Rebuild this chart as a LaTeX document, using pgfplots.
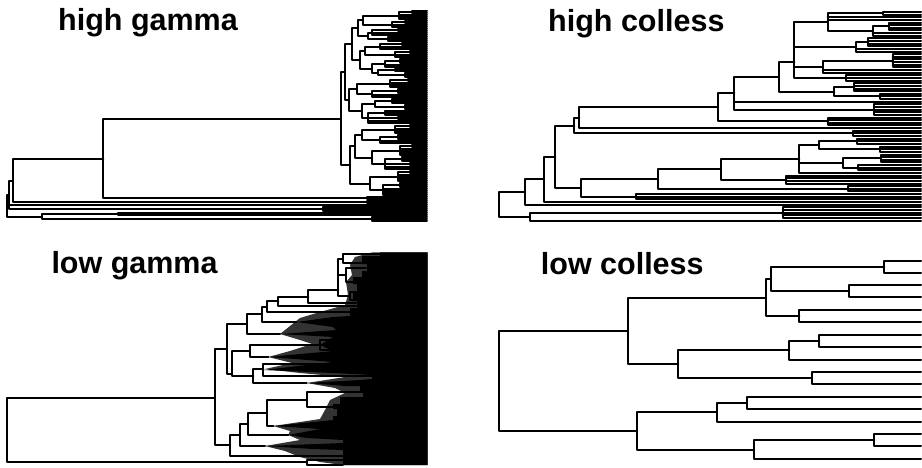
\documentclass[border=0pt]{standalone}
\usepackage{fontspec}
\setmainfont{Liberation Sans}
\usepackage{pgfplots}
\pgfplotsset{compat=1.18}
\pgfplotsset{phylo/.style={black, line width=2.0pt, line cap=round, line join=round, mark=none, forget plot}}
\tikzset{ttl/.style={anchor=base west, inner sep=0pt, font=\fontsize{30.5}{36}\selectfont\bfseries}}
\begin{document}
\begin{tikzpicture}
\begin{axis}[x=1pt, y=1pt, y dir=reverse, xmin=0, xmax=922, ymin=0, ymax=468, hide axis, clip=false, scale only axis, unbounded coords=jump]
\addplot[draw=none, forget plot] coordinates {(0,0) (922,468)};
% ---------------- high gamma ----------------
\addplot[phylo] coordinates {
(427,11.5)(412,11.5)(412,13.5)(427,13.5) (nan,nan)
(412,12.5)(399,12.5)(399,19.5)(427,19.5) (nan,nan)
(399,15.5)(427,15.5) (nan,nan)
(399,17.5)(427,17.5) (nan,nan)
(427,21.5)(405,21.5)(405,23.5)(427,23.5) (nan,nan)
(405,22.5)(392,22.5)(392,27.5)(427,27.5) (nan,nan)
(392,25.5)(427,25.5) (nan,nan)
(399,16)(363,16)(363,25)(392,25) (nan,nan)
(427,29.5)(398,29.5)(398,31.5)(427,31.5) (nan,nan)
(398,30.5)(372,30.5)(372,35.5)(427,35.5) (nan,nan)
(372,33.5)(427,33.5) (nan,nan)
(427,37.5)(388,37.5)(388,41.5)(427,41.5) (nan,nan)
(388,39.5)(427,39.5) (nan,nan)
(372,33)(368,33)(368,39.5)(388,39.5) (nan,nan)
(363,20.5)(358,20.5)(358,36.3)(368,36.3) (nan,nan)
(427,43.5)(402,43.5)(402,45.5)(427,45.5) (nan,nan)
(402,44.5)(380,44.5)(380,49.5)(427,49.5) (nan,nan)
(380,47.5)(427,47.5) (nan,nan)
(427,51.5)(410,51.5)(410,53.5)(427,53.5) (nan,nan)
(410,52.5)(395,52.5)(395,57.5)(427,57.5) (nan,nan)
(395,55.5)(427,55.5) (nan,nan)
(380,47)(365,47)(365,55)(395,55) (nan,nan)
(427,59.5)(400,59.5)(400,63.5)(427,63.5) (nan,nan)
(400,61.5)(427,61.5) (nan,nan)
(400,61.5)(385,61.5)(385,67.5)(427,67.5) (nan,nan)
(385,65.5)(427,65.5) (nan,nan)
(427,69.5)(395,69.5)(395,71.5)(427,71.5) (nan,nan)
(427,73.5)(405,73.5)(405,77.5)(427,77.5) (nan,nan)
(405,75.5)(427,75.5) (nan,nan)
(395,70.5)(378,70.5)(378,75.5)(405,75.5) (nan,nan)
(385,64.5)(372,64.5)(372,73)(378,73) (nan,nan)
(365,51)(360,51)(360,68.8)(372,68.8) (nan,nan)
(358,28.4)(352,28.4)(352,59.9)(360,59.9) (nan,nan)
(427,79.5)(408,79.5)(408,81.5)(427,81.5) (nan,nan)
(408,80.5)(390,80.5)(390,87.5)(427,87.5) (nan,nan)
(390,83.5)(427,83.5) (nan,nan)
(390,85.5)(427,85.5) (nan,nan)
(427,89.5)(398,89.5)(398,93.5)(427,93.5) (nan,nan)
(398,91.5)(427,91.5) (nan,nan)
(398,91.5)(372,91.5)(372,97.5)(427,97.5) (nan,nan)
(372,95.5)(427,95.5) (nan,nan)
(390,84)(357,84)(357,94.5)(372,94.5) (nan,nan)
(427,99.5)(392,99.5)(392,103.5)(427,103.5) (nan,nan)
(392,101.5)(427,101.5) (nan,nan)
(427,105.5)(405,105.5)(405,109.5)(427,109.5) (nan,nan)
(405,107.5)(427,107.5) (nan,nan)
(392,101.5)(375,101.5)(375,107.5)(405,107.5) (nan,nan)
(427,111.5)(385,111.5)(385,115.5)(427,115.5) (nan,nan)
(385,113.5)(427,113.5) (nan,nan)
(427,117.5)(398,117.5)(398,119.5)(427,119.5) (nan,nan)
(385,113.5)(368,113.5)(368,123.5)(427,123.5) (nan,nan)
(368,118.5)(398,118.5) (nan,nan)
(368,121.5)(427,121.5) (nan,nan)
(375,104.5)(362,104.5)(362,118.5)(368,118.5) (nan,nan)
(357,89.3)(349,89.3)(349,111.5)(362,111.5) (nan,nan)
(352,44.2)(345,44.2)(345,100.4)(349,100.4) (nan,nan)
(427,125.5)(410,125.5)(410,127.5)(427,127.5) (nan,nan)
(410,126.5)(395,126.5)(395,133.5)(427,133.5) (nan,nan)
(395,129.5)(427,129.5) (nan,nan)
(395,131.5)(427,131.5) (nan,nan)
(427,135.5)(398,135.5)(398,139.5)(427,139.5) (nan,nan)
(398,137.5)(427,137.5) (nan,nan)
(398,137.5)(380,137.5)(380,143.5)(427,143.5) (nan,nan)
(380,141.5)(427,141.5) (nan,nan)
(395,130)(362,130)(362,140.5)(380,140.5) (nan,nan)
(427,145.5)(412,145.5)(412,147.5)(427,147.5) (nan,nan)
(412,146.5)(400,146.5)(400,155.5)(427,155.5) (nan,nan)
(400,149.5)(427,149.5) (nan,nan)
(400,151.5)(427,151.5) (nan,nan)
(400,153.5)(427,153.5) (nan,nan)
(427,157.5)(402,157.5)(402,161.5)(427,161.5) (nan,nan)
(402,159.5)(427,159.5) (nan,nan)
(427,163.5)(410,163.5)(410,165.5)(427,165.5) (nan,nan)
(402,159.5)(385,159.5)(385,169.5)(427,169.5) (nan,nan)
(385,164.5)(410,164.5) (nan,nan)
(385,167.5)(427,167.5) (nan,nan)
(400,151)(372,151)(372,164.5)(385,164.5) (nan,nan)
(362,135.3)(355,135.3)(355,157.8)(372,157.8) (nan,nan)
(427,171.5)(410,171.5)(410,173.5)(427,173.5) (nan,nan)
(410,172.5)(398,172.5)(398,181.5)(427,181.5) (nan,nan)
(398,175.5)(427,175.5) (nan,nan)
(398,177.5)(427,177.5) (nan,nan)
(398,179.5)(427,179.5) (nan,nan)
(427,183.5)(400,183.5)(400,187.5)(427,187.5) (nan,nan)
(400,185.5)(427,185.5) (nan,nan)
(400,185.5)(383,185.5)(383,195.5)(427,195.5) (nan,nan)
(383,189.5)(427,189.5) (nan,nan)
(383,191.5)(427,191.5) (nan,nan)
(383,193.5)(427,193.5) (nan,nan)
(398,177)(370,177)(370,190.5)(383,190.5) (nan,nan)
(355,146.5)(350,146.5)(350,183.8)(370,183.8) (nan,nan)
(345,72.3)(340.7,72.3)(340.7,165.2)(350,165.2) (nan,nan)
(427,197.5)(367,197.5)(367,199.5)(427,199.5) (nan,nan)
(340.7,118.8)(103.3,118.8)(103.3,198.5)(367,198.5) (nan,nan)
(427,201.5)(367,201.5)(367,203.5)(427,203.5) (nan,nan)
(103.3,158.7)(12.7,158.7)(12.7,202.5)(367,202.5) (nan,nan)
(427,207.5)(323,207.5)(323,211.5)(427,211.5) (nan,nan)
(323,209.5)(427,209.5) (nan,nan)
(12.7,180.6)(9,180.6)(9,209.5)(323,209.5) (nan,nan)
(9,205.5)(427,205.5) (nan,nan)
(427,213.5)(118.3,213.5)(118.3,215.5)(427,215.5) (nan,nan)
(427,217.5)(372,217.5)(372,221.5)(427,221.5) (nan,nan)
(372,219.5)(427,219.5) (nan,nan)
(118.3,214.5)(41.7,214.5)(41.7,219.5)(372,219.5) (nan,nan)
(9,195)(6.5,195)(6.5,217)(41.7,217)
};
% ---------------- high colless ----------------
\addplot[phylo] coordinates {
(921,12.0)(882.7,12.0)(882.7,14.6)(921,14.6) (nan,nan)
(921,22.6)(889,22.6)(889,30.5)(921,30.5) (nan,nan)
(889,25.2)(921,25.2) (nan,nan)
(889,27.8)(921,27.8) (nan,nan)
(889,26.5)(872.7,26.5)(872.7,35.8)(921,35.8) (nan,nan)
(872.7,33.1)(921,33.1) (nan,nan)
(882.7,13.3)(827.7,13.3)(827.7,31.2)(872.7,31.2) (nan,nan)
(827.7,17.3)(921,17.3) (nan,nan)
(827.7,19.9)(921,19.9) (nan,nan)
(921,38.4)(868,38.4)(868,46.3)(921,46.3) (nan,nan)
(868,41.0)(921,41.0) (nan,nan)
(868,43.7)(921,43.7) (nan,nan)
(868,42.4)(856,42.4)(856,51.6)(921,51.6) (nan,nan)
(856,49.0)(921,49.0) (nan,nan)
(921,54.2)(892.7,54.2)(892.7,67.4)(921,67.4) (nan,nan)
(892.7,56.9)(921,56.9) (nan,nan)
(892.7,59.5)(921,59.5) (nan,nan)
(892.7,62.2)(921,62.2) (nan,nan)
(892.7,64.8)(921,64.8) (nan,nan)
(892.7,60.8)(822.7,60.8)(822.7,72.7)(921,72.7) (nan,nan)
(822.7,70.1)(921,70.1) (nan,nan)
(921,75.4)(846,75.4)(846,80.6)(921,80.6) (nan,nan)
(846,78.0)(921,78.0) (nan,nan)
(827.7,22.2)(794.3,22.2)(794.3,78.0)(846,78.0) (nan,nan)
(794.3,47.0)(856,47.0) (nan,nan)
(794.3,66.8)(822.7,66.8) (nan,nan)
(921,83.3)(854.3,83.3)(854.3,91.2)(921,91.2) (nan,nan)
(854.3,85.9)(921,85.9) (nan,nan)
(854.3,88.6)(921,88.6) (nan,nan)
(921,93.8)(880,93.8)(880,99.1)(921,99.1) (nan,nan)
(880,96.5)(921,96.5) (nan,nan)
(854.3,87.3)(834.3,87.3)(834.3,96.5)(880,96.5) (nan,nan)
(794.3,62)(779,62)(779,91.9)(834.3,91.9) (nan,nan)
(921,104.4)(874.3,104.4)(874.3,115.0)(921,115.0) (nan,nan)
(874.3,107.0)(921,107.0) (nan,nan)
(874.3,109.7)(921,109.7) (nan,nan)
(874.3,112.3)(921,112.3) (nan,nan)
(779,77)(734.3,77)(734.3,109.7)(874.3,109.7) (nan,nan)
(734.3,101.8)(921,101.8) (nan,nan)
(921,117.6)(827.7,117.6)(827.7,125.5)(921,125.5) (nan,nan)
(827.7,120.2)(921,120.2) (nan,nan)
(827.7,122.9)(921,122.9) (nan,nan)
(734.3,93)(717.7,93)(717.7,121.5)(827.7,121.5) (nan,nan)
(717.7,107.3)(579.3,107.3)(579.3,128.2)(921,128.2) (nan,nan)
(921,130.8)(852.7,130.8)(852.7,136.1)(921,136.1) (nan,nan)
(852.7,133.4)(921,133.4) (nan,nan)
(579.3,117.7)(574.3,117.7)(574.3,133.4)(852.7,133.4) (nan,nan)
(921,138.7)(857,138.7)(857,144.0)(921,144.0) (nan,nan)
(857,141.4)(921,141.4) (nan,nan)
(921,146.6)(879.7,146.6)(879.7,151.9)(921,151.9) (nan,nan)
(879.7,149.3)(921,149.3) (nan,nan)
(857,141.4)(819,141.4)(819,149.3)(879.7,149.3) (nan,nan)
(921,154.6)(881,154.6)(881,162.5)(921,162.5) (nan,nan)
(881,157.2)(921,157.2) (nan,nan)
(881,159.8)(921,159.8) (nan,nan)
(921,165.1)(858.3,165.1)(858.3,170.4)(921,170.4) (nan,nan)
(858.3,167.8)(921,167.8) (nan,nan)
(881,158.5)(842.7,158.5)(842.7,167.8)(858.3,167.8) (nan,nan)
(819,145.3)(799.3,145.3)(799.3,173.0)(921,173.0) (nan,nan)
(799.3,163.2)(842.7,163.2) (nan,nan)
(921,175.7)(786,175.7)(786,183.6)(921,183.6) (nan,nan)
(786,178.3)(921,178.3) (nan,nan)
(786,181.0)(921,181.0) (nan,nan)
(799.3,159.2)(721,159.2)(721,179.7)(786,179.7) (nan,nan)
(921,186.2)(847.7,186.2)(847.7,191.5)(921,191.5) (nan,nan)
(847.7,188.9)(921,188.9) (nan,nan)
(721,169.4)(658,169.4)(658,188.9)(847.7,188.9) (nan,nan)
(921,194.2)(636,194.2)(636,199.4)(921,199.4) (nan,nan)
(636,196.8)(921,196.8) (nan,nan)
(658,179.2)(581,179.2)(581,196.8)(636,196.8) (nan,nan)
(574.3,125.6)(555.3,125.6)(555.3,188)(581,188) (nan,nan)
(555.3,156.8)(544,156.8)(544,202.1)(921,202.1) (nan,nan)
(544,179.5)(525.3,179.5)(525.3,204.7)(921,204.7) (nan,nan)
(921,207.4)(782.7,207.4)(782.7,217.9)(921,217.9) (nan,nan)
(782.7,210.0)(921,210.0) (nan,nan)
(782.7,212.6)(921,212.6) (nan,nan)
(782.7,215.3)(921,215.3) (nan,nan)
(782.7,212.6)(530,212.6)(530,220.6)(921,220.6) (nan,nan)
(525.3,192.1)(499.3,192.1)(499.3,216.6)(530,216.6)
};
% ---------------- low gamma ----------------
\addplot[fill=black!80, draw=none, forget plot] coordinates {
(427.5,252.5)(372,252.5)(355,257)(350,265)(352,275)(346,282)(348,295)(345,305)
(320,312)(300,318)(290,326)(280,334)(300,340)(312,344)(290,351)(268.3,357)
(292,363)(265,369)(300,373)(345,377)(306.7,383)(335,388)(345,393)(330,400)
(325,410)(320,419)(273.3,426)(290,431)(288.3,435)(300,440)(265,446)(285,451)
(300,457)(320,462)(343,465)(427.5,465)
};
\addplot[fill=black, draw=none, forget plot] coordinates {
(427.5,252.5)(380,252.5)(380,256)(362,256)(362,264)(367,264)(367,271)(362,271)
(362,277)(353,277)(353,284)(357,284)(357,292)(353,292)(353,301)(357,301)
(357,308)(350,308)(350,316)(333,317)(296.7,322)(333,327)(336,330)(280,334)
(333,337)(320,345)(333,351)(268.3,357)(333,362)(263.3,370)(333,373)(372,375)
(372,379)(360,380)(306.7,383)(345,386)(360,386)(360,391)(363,391)(363,397)
(340,397)(340,404)(333,404)(333,409)(337,409)(337,416)(333,416)(333,420)
(273.3,426)(320,429)(288.3,435)(306.7,438)(343,440)(343,443)(265,446)(313,449)
(343,450)(343,465)(427.5,465)
};
\addplot[phylo] coordinates {
(215,398)(6.7,398)(6.7,462.3)(306.7,462.3) (nan,nan)
(343,459.5)(306.7,459.5)(306.7,464.5)(343,464.5) (nan,nan)
(226.7,349)(215,349)(215,445)(230,445) (nan,nan)
(246.7,324)(226.7,324)(226.7,374)(231.7,374) (nan,nan)
(262,314)(246.7,314)(246.7,334)(280,334) (nan,nan)
(267,306.5)(262,306.5)(262,322)(296.7,322) (nan,nan)
(278.3,301)(267,301)(267,312)(406.7,312) (nan,nan)
(308.3,296.5)(278.3,296.5)(278.3,306)(356,306) (nan,nan)
(338.3,290)(308.3,290)(308.3,303)(356,303) (nan,nan)
(343,258.5)(338.3,258.5)(338.3,296)(350,296) (nan,nan)
(338.3,275)(346,275) (nan,nan)
(380,254)(343,254)(343,263)(362,263) (nan,nan)
(366,268)(346,268)(346,282)(353,282) (nan,nan)
(356,292)(350,292)(350,300)(356,300) (nan,nan)
(250,351)(231.7,351)(231.7,376)(253.3,376) (nan,nan)
(320,345)(250,345)(250,357)(268.3,357) (nan,nan)
(333,340)(320,340)(320,350)(333,350) (nan,nan)
(263.3,369)(253.3,369)(253.3,383)(306.7,383) (nan,nan)
(326.7,364)(263.3,364)(263.3,375.5)(387,375.5) (nan,nan)
(240,435)(230,435)(230,455.5)(343,455.5) (nan,nan)
(248.3,424)(240,424)(240,446)(265,446) (nan,nan)
(266.7,413)(248.3,413)(248.3,435)(288.3,435) (nan,nan)
(306.7,400)(266.7,400)(266.7,426)(273.3,426) (nan,nan)
(363.3,391.5)(306.7,391.5)(306.7,407)(336.7,407)
};
% ---------------- low colless ----------------
\addplot[phylo] coordinates {
(627.7,330.8)(499.3,330.8)(499.3,431)(637,431) (nan,nan)
(766,297.6)(627.7,297.6)(627.7,364)(678.3,364) (nan,nan)
(771,279)(766,279)(766,316.2)(799.3,316.2) (nan,nan)
(884.3,266.9)(771,266.9)(771,291.2)(849.3,291.2) (nan,nan)
(921,260.7)(884.3,260.7)(884.3,273)(921,273) (nan,nan)
(921,285)(849.3,285)(849.3,297.3)(921,297.3) (nan,nan)
(921,310)(799.3,310)(799.3,322.3)(921,322.3) (nan,nan)
(789.3,350.3)(678.3,350.3)(678.3,377.8)(812,377.8) (nan,nan)
(819.3,341)(789.3,341)(789.3,359.7)(921,359.7) (nan,nan)
(921,334.7)(819.3,334.7)(819.3,347.3)(921,347.3) (nan,nan)
(921,371.7)(812,371.7)(812,384)(921,384) (nan,nan)
(717,412.3)(637,412.3)(637,449.6)(753.7,449.6) (nan,nan)
(746.7,402.8)(717,402.8)(717,421.7)(921,421.7) (nan,nan)
(921,396.7)(746.7,396.7)(746.7,409)(921,409) (nan,nan)
(874.3,440.2)(753.7,440.2)(753.7,459)(921,459) (nan,nan)
(921,434)(874.3,434)(874.3,446.3)(921,446.3)
};
% ---------------- titles ----------------
\node[ttl] at (axis cs:58,31) {high gamma};
\node[ttl] at (axis cs:548,31.5) {high colless};
\node[ttl] at (axis cs:51.3,273.5) {low gamma};
\node[ttl] at (axis cs:540.7,274) {low colless};
\end{axis}
\end{tikzpicture}
\end{document}
